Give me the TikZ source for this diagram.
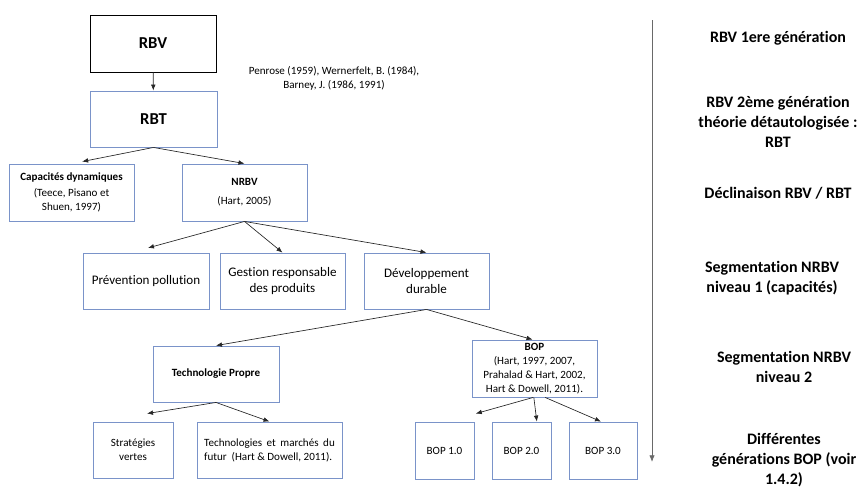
\documentclass[tikz,border=0pt]{standalone}
\usepackage{fontspec}
\setmainfont{Carlito}[Ligatures=NoCommon]
\usetikzlibrary{arrows.meta,positioning}
\definecolor{boxblue}{RGB}{122,147,201}
\definecolor{axisgray}{RGB}{105,105,105}

\begin{document}
\begin{tikzpicture}[x=0.75pt,y=-0.75pt,
  box/.style={draw=boxblue,line width=0.65pt,inner sep=0pt,align=center,
    minimum width=93.75pt,minimum height=42pt},
  big/.style={font=\fontsize{12.5}{15}\selectfont\bfseries},
  mid/.style={font=\fontsize{9.8}{12}\selectfont},
  small/.style={font=\fontsize{8.3}{10.5}\selectfont},
  side/.style={font=\fontsize{12}{15}\selectfont\bfseries,align=center},
  conn/.style={-{Latex[length=4.5pt,width=3.5pt]},line width=0.5pt,draw=black!85}]
  \useasboundingbox (0,0) rectangle (861,487);
  % tree
  \node[box,big,draw=black,minimum width=94.5pt,minimum height=42.75pt] (nRBV) at (153,43.5) {RBV};
  \node[box,big,minimum width=95.25pt] (nRBT) at (153.5,119) {RBT};
  \node[small,align=center] (nRef) at (334,78.5) {Penrose (1959), Wernerfelt, B. (1984),\\[-0.5pt]Barney, J. (1986, 1991)};
  \node[box,small,minimum height=42.75pt] (nCap) at (71.5,192.5) {\textbf{Capacités dynamiques}\\[2pt](Teece, Pisano et\\Shuen, 1997)};
  \node[box,small,minimum height=42.75pt] (nNRBV) at (244.5,192.5) {\textbf{NRBV}\\[4pt](Hart, 2005)};
  \node[box,mid,minimum width=94.5pt] (nPrev) at (146,281) {Prévention pollution};
  \node[box,mid] (nGest) at (282.5,281) {Gestion responsable\\des produits};
  \node[box,mid] (nDev) at (426.5,281) {Développement\\durable};
  \node[box,small,minimum width=94.5pt] (nTech) at (216,374) {\textbf{Technologie Propre}};
  \node[box,small,minimum height=42.75pt] (nBOP) at (534.5,368.5) {\textbf{BOP}\\(Hart, 1997, 2007,\\Prahalad \& Hart, 2002,\\Hart \& Dowell, 2011).};
  \node[box,small,minimum width=60pt] (nStrat) at (133,450) {Stratégies\\vertes};
  \node[box,small,minimum width=108.75pt] (nTechMar) at (269.5,450) {\parbox{98pt}{Technologies\hfill et\hfill marchés\hfill du\\futur~~(Hart \& Dowell, 2011).}};
  \node[box,small,minimum width=44.25pt,minimum height=42.75pt] (nB1) at (444.5,450.5) {BOP 1.0};
  \node[box,small,minimum width=44.25pt,minimum height=42.75pt] (nB2) at (521.5,450.5) {BOP 2.0};
  \node[box,small,minimum width=51pt,minimum height=42.75pt] (nB3) at (603,450.5) {BOP 3.0};
  \draw[conn] (nRBV) -- (nRBT);
  \draw[conn] (nRBT.south) -- ([xshift=8pt,yshift=1.5pt]nCap.north);
  \draw[conn] (nRBT.south) -- (nNRBV.north);
  \draw[conn] (nNRBV.south) -- ([xshift=1.5pt,yshift=3.5pt]nPrev.north);
  \draw[conn] (nNRBV.south) -- (nGest.north);
  \draw[conn] (nNRBV.south) -- (nDev.north);
  \draw[conn] (nDev.south) -- (nTech.north);
  \draw[conn] (nDev.south) -- ([xshift=-1.5pt]nBOP.north);
  \draw[conn] (nTech.south) -- ([xshift=10.5pt,yshift=6pt]nStrat.north);
  \draw[conn] (nTech.south) -- (nTechMar.north);
  \draw[conn] ([xshift=-1pt]nBOP.south) -- ([xshift=23.5pt,yshift=6pt]nB1.north);
  \draw[conn] ([xshift=-0.5pt]nBOP.south) -- ([xshift=11.5pt]nB2.north);
  \draw[conn] ([xshift=8pt]nBOP.south) -- ([xshift=-1.5pt]nB3.north);
  % time axis
  \coordinate (tTop) at (652,20);
  \coordinate (tBot) at (652,462);
  \draw[axisgray,line width=0.6pt,-{Latex[length=5pt,width=4pt]}] (tTop) -- (tBot);
  \node[side] (l1) at (778,38) {RBV 1ere génération};
  \node[side] (l2) at (778,122) {RBV 2ème génération\\théorie détautologisée :\\RBT};
  \node[side] (l3) at (778,193) {Déclinaison RBV / RBT};
  \node[side] (l4) at (772,278) {Segmentation NRBV\\niveau 1 (capacités)};
  \node[side] (l5) at (784,367) {Segmentation NRBV\\niveau 2};
  \node[side] (l6) at (784,460) {Différentes\\générations BOP (voir\\1.4.2)};
\end{tikzpicture}
\end{document}
